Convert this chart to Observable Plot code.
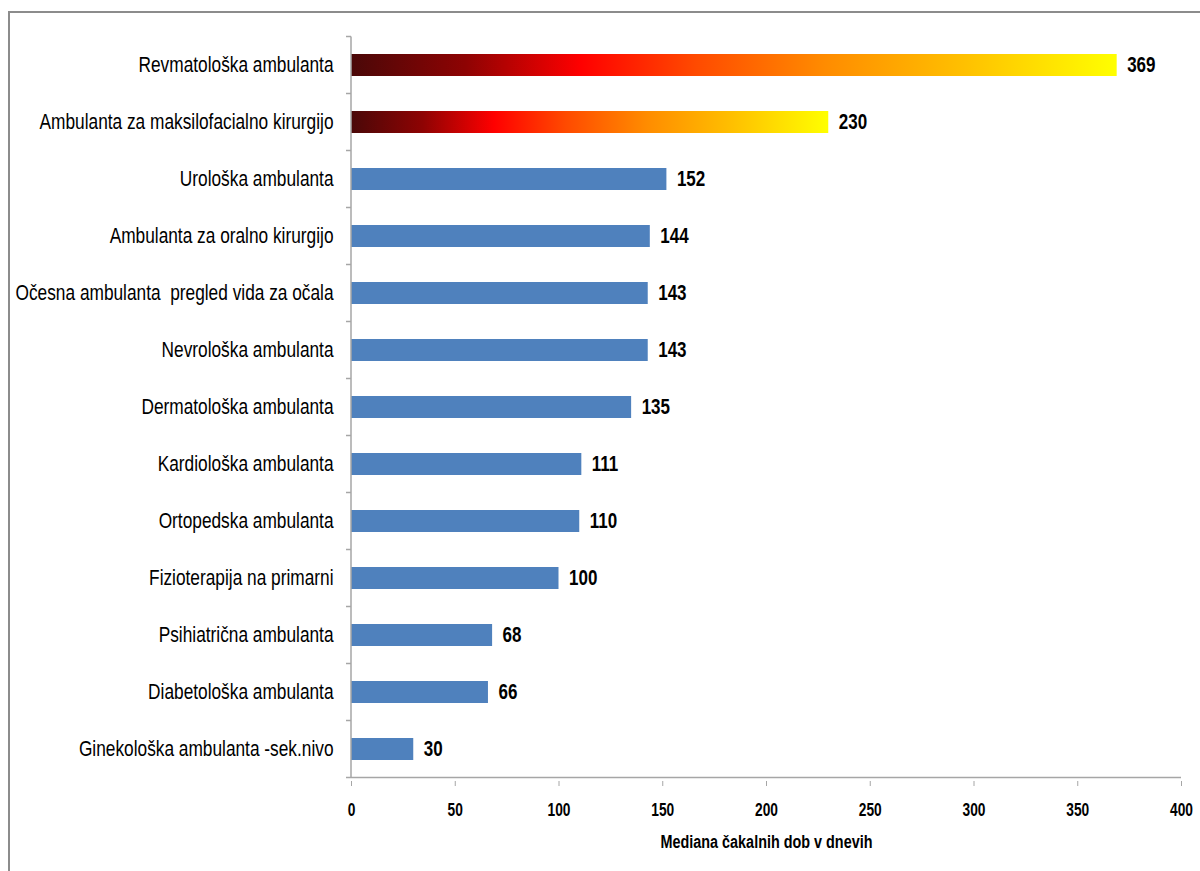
<!DOCTYPE html>
<html>
<head>
<meta charset="utf-8">
<script src="https://cdn.jsdelivr.net/npm/d3@7"></script>
<script src="https://cdn.jsdelivr.net/npm/@observablehq/plot@0.6"></script>
<style>
  html, body { margin: 0; padding: 0; background: #fff; overflow: hidden; }
  #frame { position: absolute; left: 8px; top: 11px; width: 1300px; height: 1000px;
           border-left: 2px solid #8c8c8c; border-top: 2px solid #8c8c8c; box-sizing: border-box; }
  #chart { position: absolute; left: 0; top: 0; }
</style>
</head>
<body>
<div id="frame"></div>
<div id="chart"></div>
<script>
const categories = [
  "Revmatološka ambulanta",
  "Ambulanta za maksilofacialno kirurgijo",
  "Urološka ambulanta",
  "Ambulanta za oralno kirurgijo",
  "Očesna ambulanta  pregled vida za očala",
  "Nevrološka ambulanta",
  "Dermatološka ambulanta",
  "Kardiološka ambulanta",
  "Ortopedska ambulanta",
  "Fizioterapija na primarni",
  "Psihiatrična ambulanta",
  "Diabetološka ambulanta",
  "Ginekološka ambulanta -sek.nivo"
];
const values = [369, 230, 152, 144, 143, 143, 135, 111, 110, 100, 68, 66, 30];
const highlighted = [true, true, false, false, false, false, false, false, false, false, false, false, false];
const xTicks = [0, 50, 100, 150, 200, 250, 300, 350, 400];
const xLabel = "Mediana čakalnih dob v dnevih";

const data = categories.map((c, i) => ({cat: c, value: values[i], hi: highlighted[i]}));

const font = "'Liberation Sans', Arial, sans-serif";

const chart = Plot.plot({
  width: 1200,
  height: 871,
  marginLeft: 351,
  marginRight: 19,
  marginTop: 33,
  marginBottom: 90,
  style: {background: "transparent", fontFamily: font},
  x: {domain: [0, 400]},
  y: {domain: categories, padding: 0.62, paddingOuter: 0.31},
  marks: [
    Plot.barX(data, {
      y: "cat", x: "value",
      fill: d => d.hi ? "url(#hotgrad)" : "#4F81BD"
    }),
    Plot.text(data, {
      y: "cat", x: "value", text: d => String(d.value),
      dx: 10, textAnchor: "start", fontWeight: "bold", fontSize: 20, fill: "#000"
    }),
    Plot.axisY({
      tickSize: 0, tickPadding: 18, fontSize: 19, label: null, fill: "#000"
    }),
    Plot.axisX({
      ticks: xTicks, tickSize: 5, tickPadding: 17, fontSize: 16, fontWeight: "bold",
      label: null, stroke: "#a6a6a6", fill: "#000"
    }),
    Plot.text([xLabel], {
      frameAnchor: "bottom", dy: 60, lineAnchor: "middle",
      fontWeight: "bold", fontSize: 16, fill: "#000"
    })
  ]
});

// gradient definition for highlighted bars
const svg = d3.select(chart);
const defs = svg.insert("defs", ":first-child");
const grad = defs.append("linearGradient").attr("id", "hotgrad")
  .attr("x1", "0").attr("x2", "1").attr("y1", "0").attr("y2", "0");
[[0, "#4a0808"], [0.15, "#8e0303"], [0.3, "#ff0000"], [0.45, "#ff4a00"], [0.62, "#ff8c00"], [0.8, "#ffc000"], [1, "#ffff00"]]
  .forEach(([o, c]) => grad.append("stop").attr("offset", o).attr("stop-color", c));

// x axis line and band-boundary ticks on y axis, from the library scales
const xs = chart.scale("x");
const ys = chart.scale("y");
const x0 = xs.apply(0), x1 = xs.apply(400);
const gap = (ys.step - ys.bandwidth) / 2;
const bounds = categories.map(c => ys.apply(c) - gap);
bounds.push(ys.apply(categories[categories.length - 1]) + ys.bandwidth + gap);
const g = svg.append("g").attr("stroke", "#a6a6a6").attr("stroke-width", 1.5);
g.append("line").attr("x1", x0).attr("x2", x1).attr("y1", bounds[bounds.length-1]).attr("y2", bounds[bounds.length-1]);
g.append("line").attr("x1", x0).attr("x2", x0).attr("y1", bounds[0]).attr("y2", bounds[bounds.length-1]);
bounds.forEach(b => g.append("line").attr("x1", x0 - 5).attr("x2", x0).attr("y1", b).attr("y2", b));

document.getElementById("chart").appendChild(chart);

// condense the text (the reference uses a narrow, tall face)
function stretch(nodes, sx, sy, anchor) {
  nodes.forEach(t => {
    const w = document.createElementNS("http://www.w3.org/2000/svg", "g");
    t.parentNode.insertBefore(w, t);
    w.appendChild(t);
    const b = w.getBBox();
    const ax = anchor === "end" ? b.x + b.width : anchor === "start" ? b.x : b.x + b.width / 2;
    const ay = b.y + b.height / 2;
    w.setAttribute("transform", `translate(${ax},${ay}) scale(${sx},${sy}) translate(${-ax},${-ay})`);
  });
}
const textGroups = svg.selectAll('g[aria-label="text"]').nodes();
stretch(svg.selectAll('g[aria-label="y-axis tick label"] text').nodes(), 0.91, 1.13, "end");
stretch(svg.selectAll('g[aria-label="x-axis tick label"] text').nodes(), 0.86, 1.13, "middle");
stretch(d3.select(textGroups[0]).selectAll("text").nodes(), 0.85, 1.06, "start");
stretch(d3.select(textGroups[1]).selectAll("text").nodes(), 0.9, 1.18, "middle");
</script>
</body>
</html>
